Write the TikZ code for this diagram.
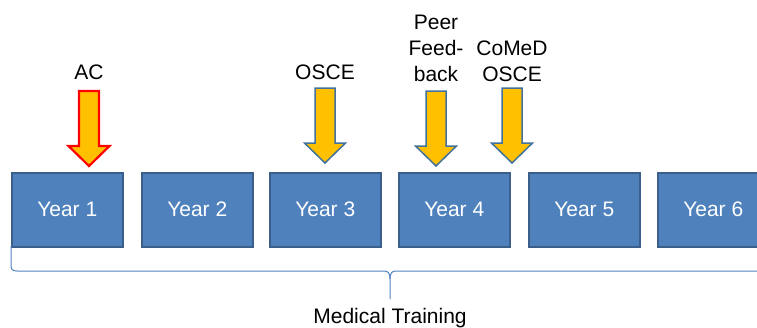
\documentclass[tikz,border=0pt]{standalone}
\usepackage{fontspec}
\setmainfont{Liberation Sans}
\definecolor{boxfill}{HTML}{4F81BD}
\definecolor{boxline}{HTML}{3A5F8B}
\definecolor{arrfill}{HTML}{FFC000}
\definecolor{arrline}{HTML}{41719C}
\begin{document}
\begin{tikzpicture}[x=1pt,y=-1pt,
  yearbox/.style={draw=boxline,line width=1.5pt,fill=boxfill,minimum width=111pt,minimum height=74pt,inner sep=0pt,text=white,font=\fontsize{21}{25}\selectfont},
  lbl/.style={align=center,font=\fontsize{21}{26}\selectfont,inner sep=0pt},
  arrbody/.style={draw=arrline,line width=1.5pt,fill=arrfill,line join=miter},
  redarr/.style={draw=red,line width=2.2pt},
  pics/downarr/.style={code={
    \path[arrbody,#1] (-10,-75) -- (10,-75) -- (10,-20) -- (20.5,-20) -- (0,0) -- (-20.5,-20) -- (-10,-20) -- cycle;}}
]
\useasboundingbox (0,0) rectangle (757,327);
% year boxes
\node[yearbox,anchor=north west] (y1) at (11,172) {Year 1};
\node[yearbox,anchor=north west] (y2) at (141,172) {Year 2};
\node[yearbox,anchor=north west] (y3) at (269,172) {Year 3};
\node[yearbox,anchor=north west] (y4) at (398,172) {Year 4};
\node[yearbox,anchor=north west] (y5) at (528,172) {Year 5};
\node[yearbox,anchor=north west] (y6) at (657,172) {Year 6};
% arrows
\pic at (89,166) {downarr={redarr}};
\pic at (325,163) {downarr={}};
\pic at (436,166) {downarr={}};
\pic at (512,163) {downarr={}};
% labels
\node[lbl] (ac) at (89,72) {AC};
\node[lbl] (osce) at (325,72) {OSCE};
\node[lbl,anchor=south] (peer) at (436,82) {Peer\\Feed-\\back};
\node[lbl,anchor=south] (comed) at (512,82) {CoMeD\\OSCE};
% brace
\coordinate (bl) at (11,246);
\coordinate (bm) at (390,299);
\coordinate (br) at (757,271);
\draw[boxfill,line width=1pt] (bl) -- (11,265) .. controls (11,269) and (12,271) .. (17,271) -- (384,271) .. controls (388,271) and (390,273) .. (390,279) -- (bm);
\draw[boxfill,line width=1pt] (390,279) .. controls (390,273) and (392,271) .. (396,271) -- (br);
\node[lbl] (mt) at (390,318) {Medical Training};
\end{tikzpicture}
\end{document}
